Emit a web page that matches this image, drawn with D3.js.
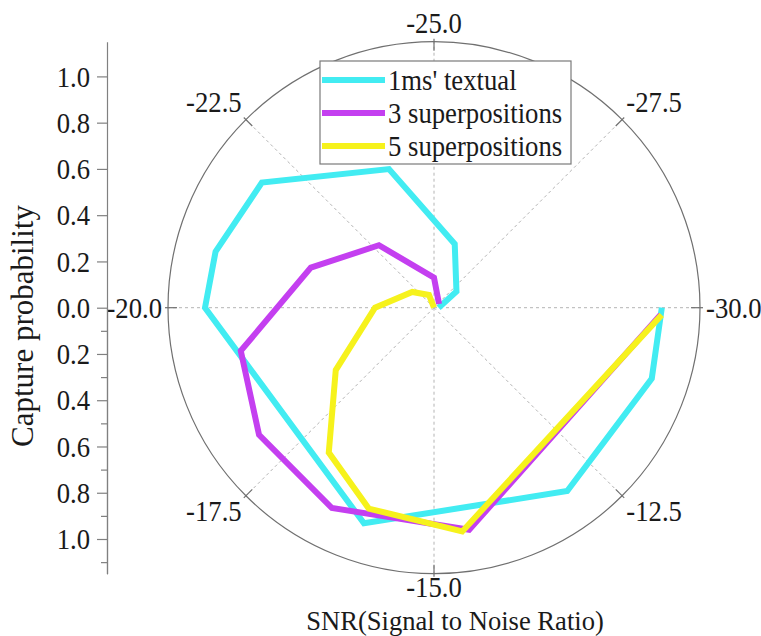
<!DOCTYPE html>
<html>
<head>
<meta charset="utf-8">
<script src="https://cdn.jsdelivr.net/npm/d3@7"></script>
<style>
  body { margin: 0; background: #fff; }
  svg { display: block; }
  text { font-family: 'Liberation Serif', 'Times New Roman', 'DejaVu Serif', 'Noto Serif', serif; }
</style>
</head>
<body>
<svg id="chart" width="761" height="636"></svg>
<script>
// angular axis: SNR (dB), one full turn from -30 to -10
const angleTicks = [-30, -27.5, -25, -22.5, -20, -17.5, -15, -12.5];
// radial axis: capture probability
const radialTicks = [0, 0.2, 0.4, 0.6, 0.8, 1.0];
const radialMinor = [0.1, 0.3, 0.5, 0.7, 0.9, 1.1];

const seriesNames = ["1ms' textual", "3 superpositions", "5 superpositions"];
const seriesColors = ['#42ecf2', '#c43ff0', '#f6f21c'];

// 1ms' textual
const snrTextual = [-30, -28, -26, -24, -22, -20.8, -20, -16, -13, -11, -10];
const probTextual = [0.02, 0.12, 0.29, 0.63, 0.92, 0.975, 0.99, 0.98, 0.98, 0.99, 0.985];
// 3 superpositions
const snrSup3 = [-28, -25, -22.7, -21, -19.3, -18, -16.5, -14.5, -10.1];
const probSup3 = [0.027, 0.13, 0.36, 0.56, 0.856, 0.935, 0.972, 0.972, 0.98];
// 5 superpositions
const snrSup5 = [-30, -23.8, -22, -20, -18.2, -17, -16, -14.6, -10.1];
const probSup5 = [0, 0.059, 0.116, 0.255, 0.503, 0.774, 0.913, 0.975, 0.985];

const FONT = "'Liberation Serif', 'Times New Roman', 'DejaVu Serif', 'Noto Serif', serif";
const FS = 30;      // font size
const K = 0.89;     // horizontal squeeze of the serif text
const TEXT_COLOR = '#1a1a1a';

const svg = d3.select('#chart');
const cx = 434, cy = 307.7, R = 266;

const rScale = d3.scaleLinear().domain([0, 1.15]).range([0, R]);
// d3 radial angle: clockwise from 12 o'clock; SNR runs counter-clockwise from 3 o'clock
const aScale = d3.scaleLinear().domain([-30, -10]).range([Math.PI / 2, Math.PI / 2 - 2 * Math.PI]);

// small helper for squeezed serif labels
function label(parent, x, y, str, anchor, size, k) {
  return parent.append('text')
    .attr('transform', `translate(${x},${y}) scale(${k || K},1)`)
    .attr('text-anchor', anchor)
    .style('font-family', FONT)
    .style('font-size', (size || FS) + 'px')
    .attr('fill', TEXT_COLOR)
    .text(str);
}

const polar = svg.append('g').attr('transform', `translate(${cx},${cy})`);

// dashed spokes
polar.selectAll('line.spoke')
  .data(angleTicks)
  .join('line')
  .attr('class', 'spoke')
  .attr('x1', 0).attr('y1', 0)
  .attr('x2', d => R * Math.sin(aScale(d)))
  .attr('y2', d => -R * Math.cos(aScale(d)))
  .attr('stroke', '#b4b4b4')
  .attr('stroke-width', 1)
  .attr('stroke-dasharray', '3,3');

// outer circle
polar.append('circle')
  .attr('r', R)
  .attr('fill', 'none')
  .attr('stroke', '#707070')
  .attr('stroke-width', 1.2);

// ticks on the circle
polar.selectAll('line.atick')
  .data(angleTicks)
  .join('line')
  .attr('class', 'atick')
  .attr('x1', d => (R - 9) * Math.sin(aScale(d)))
  .attr('y1', d => -(R - 9) * Math.cos(aScale(d)))
  .attr('x2', d => (R + 3) * Math.sin(aScale(d)))
  .attr('y2', d => -(R + 3) * Math.cos(aScale(d)))
  .attr('stroke', '#707070')
  .attr('stroke-width', 1.2);

// angle labels
angleTicks.forEach(d => {
  const a = aScale(d);
  const s = Math.sin(a), c = Math.cos(a); // s = cos(theta), c = sin(theta)
  const x = (R + 6) * s;
  const y = -(R + 6) * c;
  const anchor = s > 0.1 ? 'start' : (s < -0.1 ? 'end' : 'middle');
  let base = c > 0.1 ? y - 3 : (c < -0.1 ? y + 21 : y + 10);
  if (anchor === 'middle' && c < 0) base = y + 17; // bottom label sits just above the title
  label(polar, x, base, d.toFixed(1), anchor);
});

// series lines
const line = d3.lineRadial()
  .angle(d => aScale(d[0]))
  .radius(d => rScale(d[1]));

const series = [
  d3.zip(snrTextual, probTextual),
  d3.zip(snrSup3, probSup3),
  d3.zip(snrSup5, probSup5)
];

polar.selectAll('path.series')
  .data(series)
  .join('path')
  .attr('class', 'series')
  .attr('d', line)
  .attr('fill', 'none')
  .attr('stroke', (d, i) => seriesColors[i])
  .attr('stroke-width', 6)
  .attr('stroke-linejoin', 'miter')
  .attr('stroke-miterlimit', 2.5);

// left radial axis (mirrored above and below the centre)
const axisX = 107;
const yTop = d3.scaleLinear().domain([0, 1.15]).range([cy, cy - R]);
const yBot = d3.scaleLinear().domain([0, 1.15]).range([cy, cy + R]);

function styleAxis(g) {
  g.attr('font-family', null).attr('font-size', null);
  g.selectAll('path, line').attr('stroke', '#808080').attr('stroke-width', 1.2);
  g.selectAll('text')
    .style('font-family', FONT)
    .style('font-size', FS + 'px')
    .attr('fill', TEXT_COLOR)
    .attr('x', -17 / K)
    .attr('transform', `scale(${K},1)`);
}

svg.append('g')
  .attr('transform', `translate(${axisX},0)`)
  .call(d3.axisLeft(yTop).tickValues(radialTicks).tickSize(10).tickSizeOuter(0)
    .tickPadding(7).tickFormat(d3.format('.1f')))
  .call(styleAxis);

svg.append('g')
  .attr('transform', `translate(${axisX},0)`)
  .call(d3.axisLeft(yBot).tickValues(radialTicks.slice(1)).tickSize(10).tickSizeOuter(0)
    .tickPadding(7).tickFormat(d3.format('.1f')))
  .call(styleAxis);

svg.append('g')
  .attr('transform', `translate(${axisX},0)`)
  .call(d3.axisLeft(yBot).tickValues(radialMinor).tickSize(6).tickSizeOuter(0).tickFormat(''))
  .call(styleAxis);

// axis titles
svg.append('text')
  .attr('transform', `translate(33,326) rotate(-90)`)
  .attr('text-anchor', 'middle')
  .style('font-family', FONT)
  .style('font-size', '31px')
  .attr('fill', TEXT_COLOR)
  .text('Capture probability');

label(svg, 455, 630, 'SNR(Signal to Noise Ratio)', 'middle', 28, 0.95);

// legend
const legend = svg.append('g').attr('transform', 'translate(320,61)');
legend.append('rect')
  .attr('width', 251).attr('height', 103)
  .attr('fill', '#fff')
  .attr('stroke', '#7a7a7a')
  .attr('stroke-width', 1.2);

seriesNames.forEach((name, i) => {
  const y = 19 + i * 33;
  legend.append('line')
    .attr('x1', 2).attr('x2', 65)
    .attr('y1', y).attr('y2', y)
    .attr('stroke', seriesColors[i])
    .attr('stroke-width', 6);
  label(legend, 68, y + 10, name, 'start');
});
</script>
</body>
</html>
